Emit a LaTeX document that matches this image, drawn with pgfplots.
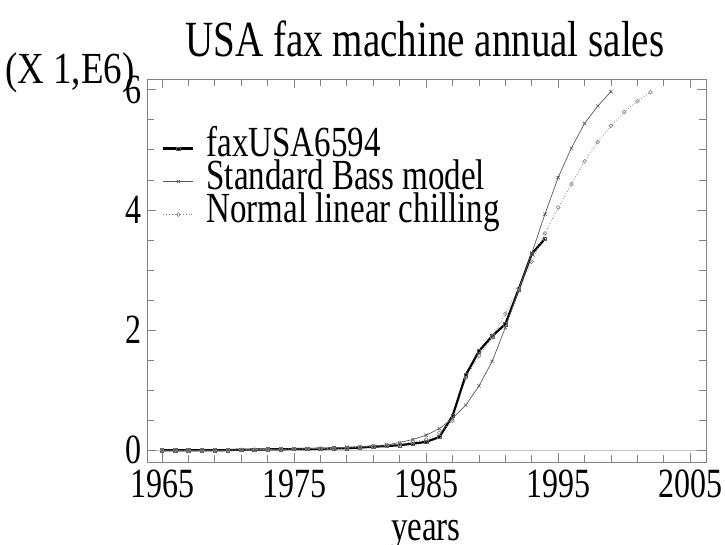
\documentclass[border=0pt]{standalone}
\usepackage{pgfplots}
\pgfplotsset{compat=1.18}
\usepackage{fontspec}
\setmainfont{Liberation Serif}
\definecolor{framegray}{RGB}{130,130,130}
\definecolor{bassgray}{RGB}{90,90,90}
\definecolor{chillgray}{RGB}{130,130,130}
\newcommand{\tall}[1]{\scalebox{1}[1.3]{#1}}
\begin{document}
\begin{tikzpicture}
\useasboundingbox (0pt,0pt) rectangle (725pt,545pt);
\begin{axis}[
  at={(147pt,83pt)}, anchor=south west,
  scale only axis, width=559pt, height=383pt,
  xmin=1963.86, xmax=2006.2, ymin=-0.195, ymax=6.18,
  xtick={1965,1975,...,2005},
  minor xtick={1967,1969,...,2003},
  ytick={0,2,4,6},
  minor ytick={0.5,1,...,6},
  extra y ticks={0}, extra y tick labels={},
  extra y tick style={grid=major, major grid style={gray!45, line width=0.8pt}},
  tick align=inside,
  major tick length=9pt, minor tick length=7pt,
  axis line style={framegray, line width=0.8pt},
  every tick/.style={framegray, line width=0.8pt},
  /pgf/number format/assume math mode=true,
  /pgf/number format/1000 sep={},
  ticklabel style={font=\fontsize{32}{32}\selectfont},
  xticklabel={\tall{\pgfmathprintnumber{\tick}}},
  yticklabel={\tall{\pgfmathprintnumber{\tick}}},
  xticklabel style={yshift=-4pt},
  yticklabel style={xshift=-2pt},
  legend style={at={(0.027,0.862)}, anchor=north west, draw=none, fill=none,
    font=\fontsize{33}{33}\selectfont, inner sep=0pt, row sep=0pt,
    nodes={inner sep=0pt, text height=24pt, text depth=9pt}},
  legend cell align=left,
  legend image code/.code={
    \draw[mark repeat=2,mark phase=2,#1] plot coordinates {(0pt,0pt) (15pt,0pt) (30pt,0pt)};
    \path (0pt,0pt) (42pt,0pt);
  },
  clip=false,
]
\addplot[black, line width=2.2pt, mark=square, mark size=1.7pt,
  mark options={solid, line width=0.6pt, draw=gray!70!black}] coordinates {
(1965,0) (1966,0) (1967,0) (1968,0) (1969,0) (1970,0.003) (1971,0.01) (1972,0.012)
(1973,0.015) (1974,0.018) (1975,0.02) (1976,0.022) (1977,0.025) (1978,0.03) (1979,0.035)
(1980,0.045) (1981,0.06) (1982,0.07) (1983,0.085) (1984,0.11) (1985,0.14) (1986,0.22)
(1987,0.57) (1988,1.25) (1989,1.65) (1990,1.9) (1991,2.1) (1992,2.67) (1993,3.27) (1994,3.52)
};
\addlegendentry{\tall{faxUSA6594}}
\addplot[bassgray, line width=0.7pt, mark=x, mark size=2.3pt,
  mark options={solid, line width=0.6pt}] coordinates {
(1965,0) (1966,0) (1967,0) (1968,0) (1969,0) (1970,0.003) (1971,0.006) (1972,0.01)
(1973,0.013) (1974,0.017) (1975,0.021) (1976,0.026) (1977,0.032) (1978,0.04) (1979,0.05)
(1980,0.06) (1981,0.075) (1982,0.09) (1983,0.13) (1984,0.18) (1985,0.25) (1986,0.36)
(1987,0.53) (1988,0.75) (1989,1.07) (1990,1.48) (1991,2.04) (1992,2.66) (1993,3.28)
(1994,3.93) (1995,4.54) (1996,5.03) (1997,5.44) (1998,5.73) (1999,5.97)
};
\addlegendentry{\tall{Standard Bass model}}
\addplot[chillgray, line width=0.8pt, dotted, mark=o, mark size=1.9pt,
  mark options={solid, line width=0.6pt}] coordinates {
(1965,0) (1966,0) (1967,0) (1968,0) (1969,0) (1970,0.003) (1971,0.008) (1972,0.012)
(1973,0.015) (1974,0.018) (1975,0.02) (1976,0.023) (1977,0.027) (1978,0.032) (1979,0.038)
(1980,0.05) (1981,0.062) (1982,0.075) (1983,0.1) (1984,0.14) (1985,0.18) (1986,0.29)
(1987,0.49) (1988,1.2) (1989,1.57) (1990,1.88) (1991,2.27) (1992,2.7) (1993,3.14)
(1994,3.61) (1995,4.04) (1996,4.43) (1997,4.81) (1998,5.13) (1999,5.4) (2000,5.63)
(2001,5.81) (2002,5.96)
};
\addlegendentry{\tall{Normal linear chilling}}
\end{axis}
\node[anchor=base, inner sep=0pt, font=\fontsize{39}{39}\selectfont] at (425pt,488pt) {\tall{USA fax machine annual sales}};
\node[anchor=base west, inner sep=0pt, font=\fontsize{37}{37}\selectfont] at (5pt,461pt) {\scalebox{1}[1.2]{(X 1,E6)}};
\node[anchor=base, inner sep=0pt, font=\fontsize{33}{33}\selectfont] at (426pt,4pt) {\tall{years}};
\end{tikzpicture}
\end{document}
